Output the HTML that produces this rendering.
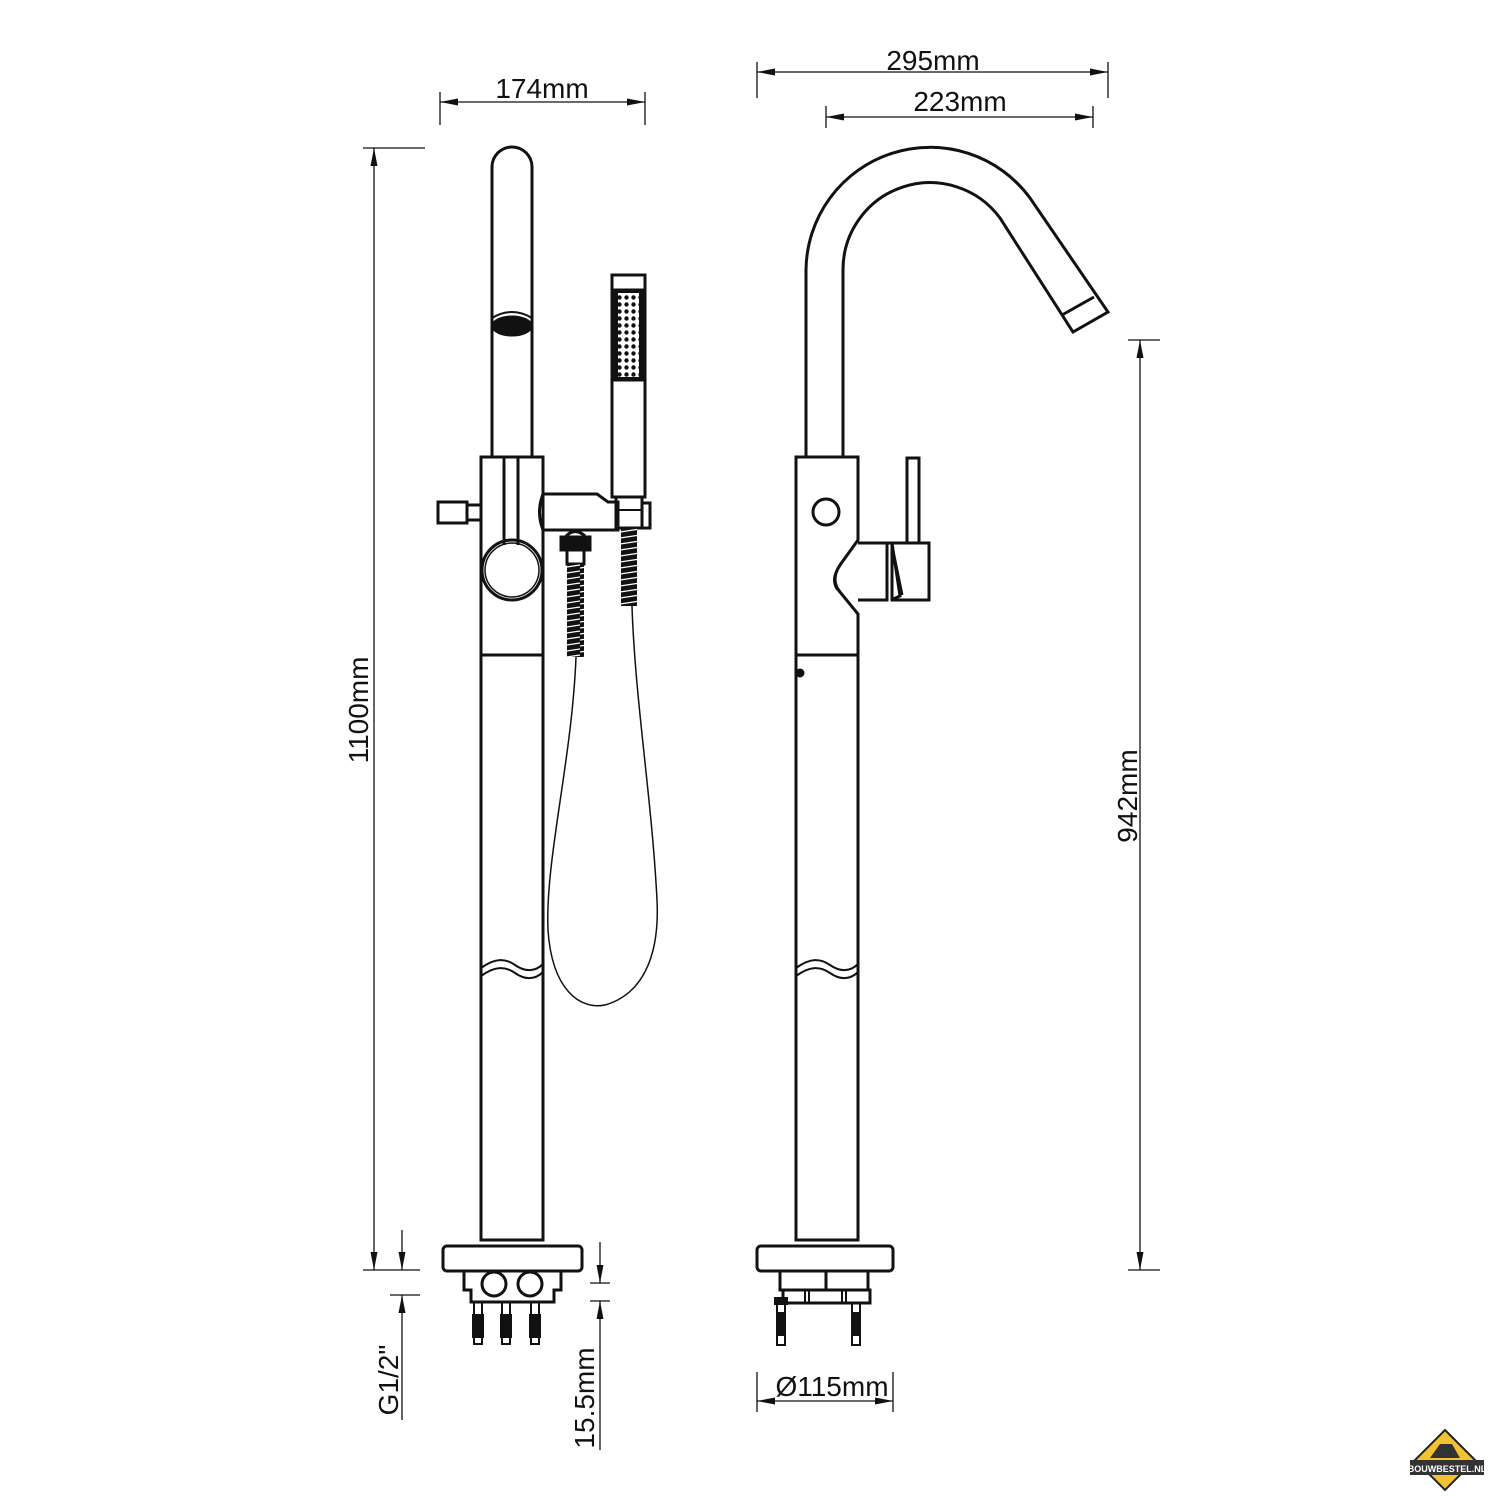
<!DOCTYPE html>
<html><head><meta charset="utf-8"><style>
html,body{margin:0;padding:0;background:#fff}
svg{display:block}
text{font-family:"Liberation Sans",Arial,sans-serif;font-size:28px;fill:#111}
</style></head><body>
<svg width="1500" height="1500" viewBox="0 0 1500 1500" xmlns="http://www.w3.org/2000/svg">
<defs>
<marker id="a" viewBox="0 0 18 8" refX="18" refY="4" markerWidth="18" markerHeight="8" markerUnits="userSpaceOnUse" orient="auto-start-reverse"><path d="M0,0.5 L18,4 L0,7.5 z" fill="#111"/></marker>
<pattern id="spr" width="20" height="6" patternUnits="userSpaceOnUse"><rect width="20" height="6" fill="#111"/><line x1="0" y1="4" x2="20" y2="1" stroke="#fff" stroke-width="1.3"/></pattern>
<pattern id="dots" width="7" height="7" patternUnits="userSpaceOnUse"><rect width="7" height="7" fill="#fff"/><circle cx="3.5" cy="3.5" r="2.2" fill="#111"/></pattern>
</defs>
<g fill="none" stroke="#111" stroke-width="3">
<!-- LEFT FAUCET -->
<path d="M492,457 L492,167 A20,20 0 0 1 532,167 L532,457"/>
<path d="M492,318 Q512,306 532,318" stroke-width="2"/>
<ellipse cx="512" cy="326" rx="19" ry="9" fill="#111"/>
<rect x="481" y="457" width="62" height="783"/>
<line x1="481" y1="655" x2="543" y2="655"/>
<path d="M504,457 L504,545 M518,457 L518,545"/>
<circle cx="512" cy="570" r="30"/>
<circle cx="512" cy="570" r="27" stroke-width="1.5"/>
<rect x="438" y="502" width="29" height="21"/>
<rect x="467" y="505" width="14" height="15"/>
<path d="M543,494 L597,494 L608,502 L618,502 L618,530 L543,530 Q536,512 543,494"/>
<!-- hand shower -->
<rect x="612" y="275" width="33" height="222"/>
<rect x="614" y="290" width="29" height="90" fill="#111"/>
<rect x="616" y="497" width="26" height="31"/>
<rect x="642" y="503" width="8" height="25"/>
<line x1="616" y1="510" x2="642" y2="510" stroke-width="2"/>
<!-- hose nut -->
<path d="M566,536 Q575,527 585,536" />
<rect x="561" y="537" width="29" height="13" fill="#111"/>
<rect x="567" y="550" width="17" height="14"/>
<rect x="567" y="564" width="17" height="93" fill="url(#spr)" stroke="none"/>
<rect x="621" y="528" width="16" height="78" fill="url(#spr)" stroke="none"/>
<!-- hose loop -->
<path d="M576,657 C572,760 545,860 548,930 C552,990 580,1010 605,1005 C640,995 660,960 657,900 C652,800 635,700 632,606" stroke-width="1.5"/>
<path d="M481,968 C495,958 505,958 515,965 C525,972 535,972 543,964" stroke-width="2"/>
<path d="M481,976 C495,966 505,966 515,973 C525,980 535,980 543,972" stroke-width="2"/>
<!-- left base -->
<rect x="443" y="1246" width="139" height="25" rx="4"/>
<path d="M464,1271 L464,1290 L471,1290 L471,1302 L554,1302 L554,1290 L561,1290 L561,1271"/>
<circle cx="494" cy="1284" r="12"/>
<circle cx="530" cy="1284" r="12"/>
<g stroke-width="2">
<rect x="474" y="1302" width="8" height="42"/>
<rect x="502" y="1302" width="8" height="42"/>
<rect x="531" y="1302" width="8" height="42"/>
</g>
<g fill="#111" stroke="none">
<rect x="472" y="1314" width="12" height="24"/><rect x="500" y="1314" width="12" height="24"/><rect x="529" y="1314" width="12" height="24"/>
</g>

<!-- RIGHT FAUCET -->
<path d="M806,457 L806,270 A124,124 0 0 1 1030,198 L1108,312 L1073,332 L1000,218 A87,87 0 0 0 843,270 L843,457"/>
<line x1="1094" y1="297" x2="1062" y2="315"/>
<path d="M796,457 L858,457 L858,540 L840,565 Q830,580 840,592 L858,614 L858,1240 L796,1240 Z"/>
<line x1="796" y1="655" x2="858" y2="655"/>
<circle cx="800" cy="673" r="3" fill="#111"/>
<circle cx="826" cy="512" r="13"/>
<path d="M852,548 L836,572 Q832,580 836,588 L852,606" stroke-width="2"/>
<path d="M858,543 L887,543 L887,600 L858,600"/>
<path d="M887,543 L892,543 L900,596 L891,600 M892,546 L902,595"/>
<rect x="892" y="543" width="37" height="57"/>
<rect x="907" y="458" width="12" height="85"/>
<path d="M796,968 C810,958 820,958 830,965 C840,972 850,972 858,964" stroke-width="2"/>
<path d="M796,976 C810,966 820,966 830,973 C840,980 850,980 858,972" stroke-width="2"/>
<!-- right base -->
<rect x="757" y="1246" width="136" height="25" rx="4"/>
<path d="M780,1271 L780,1290 L868,1290 L868,1271 M826,1271 L826,1290"/>
<rect x="783" y="1290" width="87" height="13"/>
<path d="M805,1290 L805,1303 M809,1290 L809,1303 M842,1290 L842,1303 M846,1290 L846,1303" stroke-width="2"/>
<g stroke-width="2"><rect x="777" y="1303" width="8" height="42"/><rect x="852" y="1303" width="8" height="42"/></g>
<rect x="774" y="1297" width="14" height="8" fill="#111" stroke="none"/>
<g fill="#111" stroke="none"><rect x="776" y="1312" width="10" height="24"/><rect x="851" y="1312" width="10" height="24"/></g>
</g>
<rect x="618" y="293" width="21" height="84" fill="url(#dots)"/>

<!-- DIMENSIONS -->
<g stroke="#111" stroke-width="1.3" fill="none">
<line x1="440" y1="92" x2="440" y2="125"/><line x1="645" y1="92" x2="645" y2="125"/>
<line x1="440" y1="102" x2="645" y2="102" marker-end="url(#a)" marker-start="url(#a)"/>
<line x1="757" y1="62" x2="757" y2="98"/><line x1="1108" y1="62" x2="1108" y2="98"/>
<line x1="757" y1="72" x2="1108" y2="72" marker-end="url(#a)" marker-start="url(#a)"/>
<line x1="826" y1="106" x2="826" y2="128"/><line x1="1093" y1="106" x2="1093" y2="128"/>
<line x1="826" y1="117" x2="1093" y2="117" marker-end="url(#a)" marker-start="url(#a)"/>
<line x1="363" y1="148" x2="425" y2="148"/><line x1="363" y1="1270" x2="420" y2="1270"/>
<line x1="374" y1="148" x2="374" y2="1270" marker-end="url(#a)" marker-start="url(#a)"/>
<line x1="390" y1="1295" x2="420" y2="1295"/>
<line x1="402" y1="1230" x2="402" y2="1270" marker-end="url(#a)"/>
<line x1="402" y1="1420" x2="402" y2="1295" marker-end="url(#a)"/>
<line x1="590" y1="1283" x2="610" y2="1283"/><line x1="590" y1="1301" x2="610" y2="1301"/>
<line x1="600" y1="1242" x2="600" y2="1283" marker-end="url(#a)"/>
<line x1="600" y1="1450" x2="600" y2="1301" marker-end="url(#a)"/>
<line x1="1128" y1="340" x2="1160" y2="340"/><line x1="1128" y1="1270" x2="1160" y2="1270"/>
<line x1="1140" y1="340" x2="1140" y2="1270" marker-end="url(#a)" marker-start="url(#a)"/>
<line x1="757" y1="1372" x2="757" y2="1412"/><line x1="893" y1="1372" x2="893" y2="1412"/>
<line x1="757" y1="1401" x2="893" y2="1401" marker-end="url(#a)" marker-start="url(#a)"/>
</g>
<text x="542" y="98" text-anchor="middle">174mm</text>
<text x="933" y="70" text-anchor="middle">295mm</text>
<text x="960" y="111" text-anchor="middle">223mm</text>
<text x="832" y="1396" text-anchor="middle">Ø115mm</text>
<text transform="translate(368,710) rotate(-90)" text-anchor="middle">1100mm</text>
<text transform="translate(1137,796) rotate(-90)" text-anchor="middle">942mm</text>
<text transform="translate(398,1380) rotate(-90)" text-anchor="middle">G1/2"</text>
<text transform="translate(594,1398) rotate(-90)" text-anchor="middle">15.5mm</text>

<!-- logo -->
<path d="M1445,1430 L1475,1460 L1445,1490 L1415,1460 Z" fill="#f2c230" stroke="#222" stroke-width="2"/>
<path d="M1430,1458 L1440,1444 L1452,1444 L1460,1458 Z" fill="#333"/>
<rect x="1410" y="1460" width="74" height="15" fill="#333"/>
<text x="1447" y="1472" text-anchor="middle" style="font-size:9px;fill:#fff;font-weight:bold">BOUWBESTEL.NL</text>
</svg>
</body></html>
